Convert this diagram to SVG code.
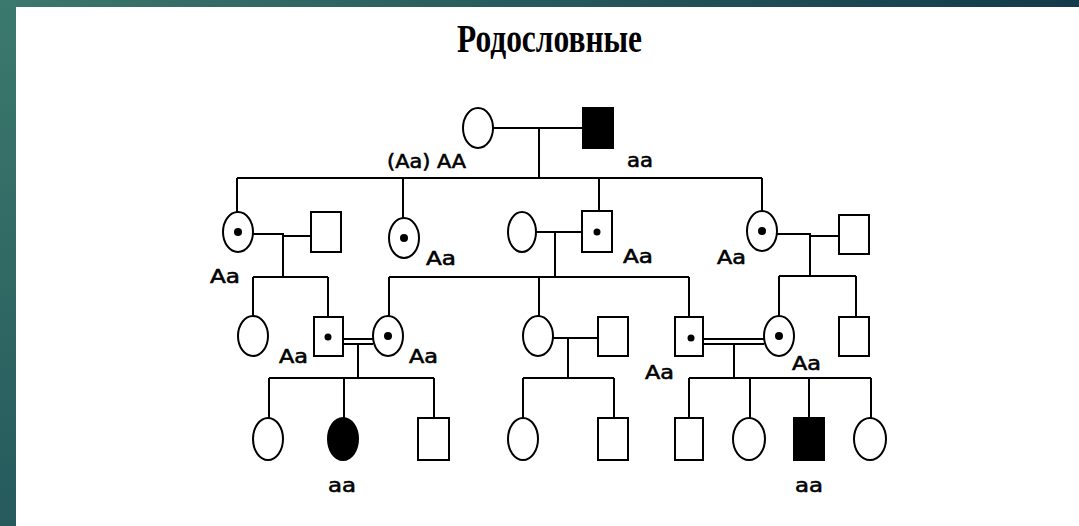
<svg xmlns="http://www.w3.org/2000/svg" width="1079" height="526" viewBox="0 0 1079 526">
<defs>
<linearGradient id="bar" x1="0" y1="0" x2="1" y2="0">
<stop offset="0" stop-color="#3b786c"/>
<stop offset="0.5" stop-color="#27595c"/>
<stop offset="1" stop-color="#133a4a"/>
</linearGradient>
<linearGradient id="side" x1="0" y1="0" x2="0" y2="1">
<stop offset="0" stop-color="#3c796d"/>
<stop offset="1" stop-color="#265a5d"/>
</linearGradient>
<style>
.ln{stroke:#000;stroke-width:2;fill:none}
.sh{stroke:#000;stroke-width:2;fill:#fff}
.af{stroke:#000;stroke-width:2;fill:#000}
.dot{fill:#000}
.lb{font-family:"DejaVu Sans","Liberation Sans",sans-serif;font-size:20px;fill:#000;stroke:#000;stroke-width:0.6}
.title{font-family:"Liberation Serif","Times New Roman",serif;font-weight:bold;font-size:40px;fill:#000}
</style>
</defs>
<rect x="0" y="0" width="1079" height="526" fill="#fff"/>
<rect x="0" y="0" width="1079" height="7" fill="url(#bar)"/>
<rect x="0" y="0" width="16" height="526" fill="url(#side)"/>
<text class="title" x="457" y="52" textLength="185" lengthAdjust="spacingAndGlyphs">Родословные</text>

<g id="connectors">
<path class="ln" d="M493 128H583M539 128V178M237 178H762M237 178V212M403 178V218M599 178V210M762 178V211"/>
<path class="ln" d="M253 234H283V236H311M283 234V277M253 277H328M253 277V317M328 277V317"/>
<path class="ln" d="M536 232H582M555 232V277M389 277H689M389 277V316M539 277V317M689 277V317"/>
<path class="ln" d="M777 234H810V236H839M810 234V276M779 276H856M779 276V317M856 276V317"/>
<path class="ln" d="M343 339H373M343 344H373M358 344V378M269 378H434M269 378V418M344 378V418M434 378V418"/>
<path class="ln" d="M553 338H598M568 338V378M523 378H614M523 378V418M614 378V418"/>
<path class="ln" d="M703 339H764M703 344H764M734 344V378M689 378H871M689 378V418M750 378V418M809 378V418M871 378V418"/>
</g>

<g id="g1-mother"><ellipse class="sh" cx="478" cy="128" rx="15" ry="20"/></g>
<g id="g1-father"><rect class="af" x="583" y="108" width="30" height="40"/></g>

<g id="g2-d1"><ellipse class="sh" cx="238" cy="232" rx="15" ry="20"/><circle class="dot" cx="238" cy="232" r="4"/></g>
<g id="g2-d1-husband"><rect class="sh" x="311" y="212" width="30" height="40"/></g>
<g id="g2-d2"><ellipse class="sh" cx="404" cy="238" rx="15" ry="20"/><circle class="dot" cx="404" cy="238" r="4"/></g>
<g id="g2-s-wife"><ellipse class="sh" cx="522" cy="232" rx="14" ry="20"/></g>
<g id="g2-s"><rect class="sh" x="582" y="211" width="30" height="41"/><circle class="dot" cx="597" cy="232" r="3.5"/></g>
<g id="g2-d3"><ellipse class="sh" cx="762" cy="231" rx="15" ry="20"/><circle class="dot" cx="762" cy="231" r="4"/></g>
<g id="g2-d3-husband"><rect class="sh" x="839" y="215" width="30" height="39"/></g>

<g id="g3-a1"><ellipse class="sh" cx="253" cy="336" rx="15" ry="20"/></g>
<g id="g3-a2"><rect class="sh" x="314" y="317" width="29" height="39"/><circle class="dot" cx="328" cy="337" r="3.5"/></g>
<g id="g3-b1"><ellipse class="sh" cx="388" cy="336" rx="15" ry="20"/><circle class="dot" cx="388" cy="336" r="4"/></g>
<g id="g3-b2"><ellipse class="sh" cx="538" cy="336" rx="15" ry="20"/></g>
<g id="g3-b2-husband"><rect class="sh" x="598" y="317" width="30" height="39"/></g>
<g id="g3-b3"><rect class="sh" x="675" y="317" width="28" height="39"/><circle class="dot" cx="691" cy="338" r="3.5"/></g>
<g id="g3-c1"><ellipse class="sh" cx="779" cy="336" rx="15" ry="20"/><circle class="dot" cx="779" cy="336" r="4"/></g>
<g id="g3-c2"><rect class="sh" x="839" y="317" width="30" height="39"/></g>

<g id="g4-1"><ellipse class="sh" cx="268" cy="439" rx="15" ry="21"/></g>
<g id="g4-2"><ellipse class="af" cx="343" cy="439" rx="15" ry="21"/></g>
<g id="g4-3"><rect class="sh" x="418" y="418" width="31" height="42"/></g>
<g id="g4-4"><ellipse class="sh" cx="523" cy="439" rx="15" ry="21"/></g>
<g id="g4-5"><rect class="sh" x="598" y="418" width="30" height="42"/></g>
<g id="g4-6"><rect class="sh" x="675" y="418" width="28" height="42"/></g>
<g id="g4-7"><ellipse class="sh" cx="749" cy="439" rx="16" ry="21"/></g>
<g id="g4-8"><rect class="af" x="794" y="418" width="30" height="42"/></g>
<g id="g4-9"><ellipse class="sh" cx="870" cy="439" rx="16" ry="21"/></g>

<g id="labels">
<text class="lb" x="387" y="168" textLength="79" lengthAdjust="spacingAndGlyphs">(Aa) AA</text>
<text class="lb" x="627" y="167" textLength="26" lengthAdjust="spacingAndGlyphs">aa</text>
<text class="lb" x="210" y="283" textLength="30" lengthAdjust="spacingAndGlyphs">Aa</text>
<text class="lb" x="426" y="265" textLength="30" lengthAdjust="spacingAndGlyphs">Aa</text>
<text class="lb" x="623" y="263" textLength="30" lengthAdjust="spacingAndGlyphs">Aa</text>
<text class="lb" x="717" y="264" textLength="29" lengthAdjust="spacingAndGlyphs">Aa</text>
<text class="lb" x="279" y="363" textLength="29" lengthAdjust="spacingAndGlyphs">Aa</text>
<text class="lb" x="409" y="363" textLength="29" lengthAdjust="spacingAndGlyphs">Aa</text>
<text class="lb" x="645" y="379" textLength="29" lengthAdjust="spacingAndGlyphs">Aa</text>
<text class="lb" x="792" y="370" textLength="29" lengthAdjust="spacingAndGlyphs">Aa</text>
<text class="lb" x="328" y="492" textLength="28" lengthAdjust="spacingAndGlyphs">aa</text>
<text class="lb" x="795" y="492" textLength="28" lengthAdjust="spacingAndGlyphs">aa</text>
</g>
</svg>
